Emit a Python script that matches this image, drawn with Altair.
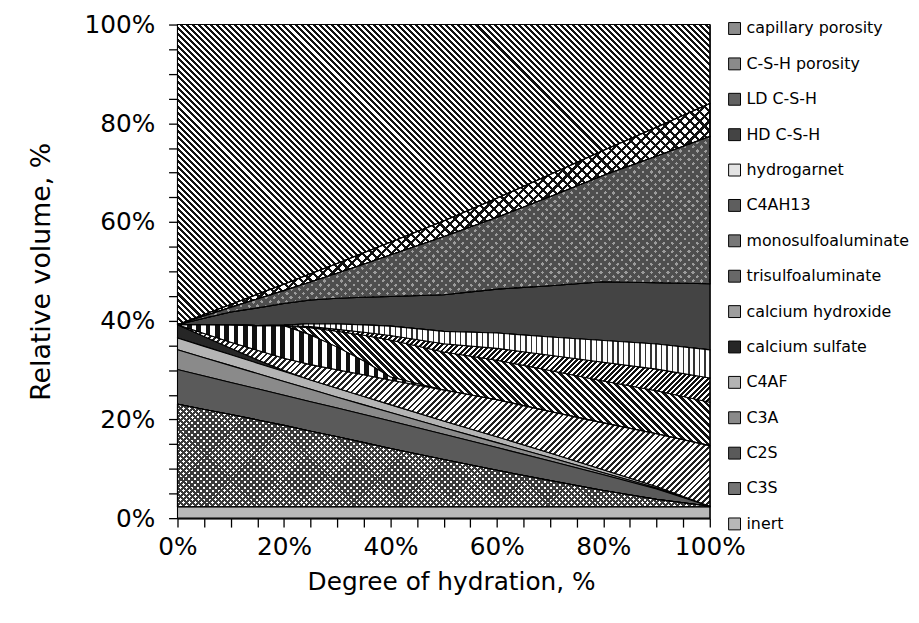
import math
import altair as alt
import pandas as pd

# Degree of hydration (%)
hydration = [0, 5, 10, 15, 20, 25, 30, 35, 40, 50, 60, 70, 80, 90, 100]

# Relative volume of each phase (%) at each degree of hydration
inert = [2.3, 2.3, 2.3, 2.3, 2.3, 2.3, 2.3, 2.3, 2.3, 2.3, 2.3, 2.3, 2.3, 2.3, 2.3]
c3s = [20.8, 19.7, 18.7, 17.6, 16.5, 15.3, 14.2, 13.0, 11.8, 9.6, 7.4, 5.3, 3.3, 1.5, 0.1]
c2s = [7.0, 6.8, 6.5, 6.3, 6.1, 6.0, 5.8, 5.7, 5.6, 5.1, 4.6, 4.0, 3.2, 2.1, 0.0]
c3a = [4.0, 3.7, 3.4, 3.1, 2.8, 2.5, 2.2, 1.95, 1.7, 1.3, 1.0, 0.7, 0.4, 0.2, 0.0]
c4af = [2.4, 2.3, 2.2, 2.1, 2.0, 1.9, 1.8, 1.7, 1.6, 1.4, 1.2, 0.9, 0.6, 0.3, 0.0]
calcium_sulfate = [2.7, 2.0, 1.3, 0.7, 0.2, 0, 0, 0, 0, 0, 0, 0, 0, 0, 0]
calcium_hydroxide = [0, 0.6, 1.25, 1.9, 2.5, 3.1, 3.75, 4.4, 5.0, 6.25, 7.5, 8.4, 9.5, 10.7, 12.3]
trisulfoaluminate = [0, 1.8, 3.5, 5.0, 6.6, 6.0, 4.6, 2.8, 0.6, 0, 0, 0, 0, 0, 0]
monosulfoaluminate = [0, 0, 0, 0, 0, 1.5, 3.2, 5.2, 7.5, 7.7, 8.0, 8.3, 8.5, 8.7, 8.8]
c4ah13 = [0, 0, 0, 0, 0, 0.2, 0.4, 0.6, 0.9, 1.7, 2.4, 3.1, 3.8, 4.4, 4.9]
hydrogarnet = [0, 0, 0, 0, 0.1, 0.6, 1.1, 1.5, 1.9, 2.5, 3.1, 3.7, 4.4, 5.1, 5.7]
hd_csh = [0, 1.3, 2.6, 3.6, 4.4, 4.8, 5.2, 5.6, 6.0, 7.4, 8.9, 10.4, 11.9, 12.4, 13.4]
ld_csh = [0, 0.45, 0.95, 1.8, 2.6, 3.65, 5.05, 6.7, 8.4, 11.75, 14.5, 18.0, 21.5, 25.6, 29.8]
csh_porosity = [0, 0.3, 0.6, 0.95, 1.3, 1.65, 2.0, 2.3, 2.6, 3.2, 3.9, 4.5, 5.1, 5.9, 6.7]
capillary_porosity = [60.8, 58.75, 56.7, 54.65, 52.6, 50.5, 48.4, 46.25, 44.1, 39.8, 35.2, 30.4, 25.5, 20.8, 16.0]

# Legend order (top to bottom) = reverse of stacking order; grey = average tone of the hatch
phases = [
    ("capillary porosity", capillary_porosity, "#8c8c8c"),
    ("C-S-H porosity", csh_porosity, "#8a8a8a"),
    ("LD C-S-H", ld_csh, "#626262"),
    ("HD C-S-H", hd_csh, "#444444"),
    ("hydrogarnet", hydrogarnet, "#e4e4e4"),
    ("C4AH13", c4ah13, "#5e5e5e"),
    ("monosulfoaluminate", monosulfoaluminate, "#777777"),
    ("trisulfoaluminate", trisulfoaluminate, "#686868"),
    ("calcium hydroxide", calcium_hydroxide, "#9e9e9e"),
    ("calcium sulfate", calcium_sulfate, "#262626"),
    ("C4AF", c4af, "#b4b4b4"),
    ("C3A", c3a, "#8a8a8a"),
    ("C2S", c2s, "#5a5a5a"),
    ("C3S", c3s, "#747474"),
    ("inert", inert, "#b8b8b8"),
]

CLEAR = "rgba(0,0,0,0)"
# hatch layers: (phase, direction, perpendicular period px, ink fraction, ink colour, paper colour)
hatches = [
    ("capillary porosity", "\\", 4.3, 0.5, "#111111", "#ffffff"),
    ("C-S-H porosity", "/", 7.0, 0.32, "#111111", "#ffffff"),
    ("C-S-H porosity", "\\", 7.0, 0.32, "#111111", CLEAR),
    ("LD C-S-H", "/", 6.0, 0.58, "#4e4e4e", "#9c9c9c"),
    ("LD C-S-H", "\\", 6.0, 0.58, "#4e4e4e", CLEAR),
    ("monosulfoaluminate", "\\", 4.6, 0.55, "#111111", "#ffffff"),
    ("C4AH13", "/", 3.8, 0.55, "#111111", "#ffffff"),
    ("calcium hydroxide", "/", 4.4, 0.45, "#222222", "#ffffff"),
    ("trisulfoaluminate", "|", 9.5, 0.5, "#111111", "#ffffff"),
    ("hydrogarnet", "|", 5.5, 0.28, "#333333", "#ffffff"),
    ("C3S", "/", 4.2, 0.5, "#3a3a3a", "#ffffff"),
    ("C3S", "\\", 4.2, 0.5, "#3a3a3a", CLEAR),
]

names = [p[0] for p in phases]
colors = [p[2] for p in phases]
n = len(phases)

PLOT_W, PLOT_H = 537, 498
EDGE = 1.1

rows = []
for k, (name, values, _) in enumerate(phases):
    for i, h in enumerate(hydration):
        rows.append({"hydration": h, "phase": name, "volume": values[i], "order": n - k})
df = pd.DataFrame(rows)

# pixel bounding box height of each stacked band (for the hatch gradients)
bottoms = [0.0] * len(hydration)
band_h = {}
for name, values, _ in reversed(phases):
    tops = [b + v for b, v in zip(bottoms, values)]
    band_h[name] = max(1.0, (max(tops) - min(bottoms)) * PLOT_H / 100.0)
    bottoms = tops


def stripe_fill(direction, W, H, period, frac, ink, paper):
    if direction == "|":
        x1, y1, x2, y2 = 0, 0, 1, 0
        length = W
    else:
        r = H / W
        a = (1 + r) / (1 + r * r)
        if direction == "\\":
            x1, y1, x2, y2 = 0, 1, a, 1 - a * r
        else:
            x1, y1, x2, y2 = 0, 0, a, a * r
        length = (W + H) / math.sqrt(2)
    count = max(1, int(round(length / period)))
    stops = []
    for i in range(count):
        o0 = round(i / count, 5)
        o1 = round((i + frac) / count, 5)
        o2 = round((i + 1) / count, 5)
        stops += [
            {"offset": o0, "color": ink},
            {"offset": o1, "color": ink},
            {"offset": o1, "color": paper},
            {"offset": o2, "color": paper},
        ]
    return {"gradient": "linear", "x1": x1, "y1": y1, "x2": x2, "y2": y2, "stops": stops}


FONT = "DejaVu Sans"
ticks = list(range(0, 101, 5))
label_expr = "datum.value % 20 == 0 ? datum.value + '%' : ''"

x_enc = alt.X(
    "hydration:Q",
    scale=alt.Scale(domain=[0, 100], nice=False, zero=False),
    axis=alt.Axis(
        values=ticks,
        labelExpr=label_expr,
        title="Degree of hydration, %",
        grid=False,
        tickSize=9,
        tickWidth=1.3,
        tickColor="black",
        domainColor="black",
        domainWidth=1.5,
        labelFont=FONT,
        labelFontSize=25,
        labelColor="black",
        labelPadding=8,
        labelFlush=False,
        labelOverlap=False,
        titleFont=FONT,
        titleFontSize=25,
        titleFontWeight="normal",
        titleColor="black",
        titlePadding=10,
        titleX=276,
        titleAlign="center",
    ),
)
y_enc = alt.Y(
    "y0:Q",
    scale=alt.Scale(domain=[0, 100], nice=False),
    axis=alt.Axis(
        values=ticks,
        labelExpr=label_expr,
        title="Relative volume, %",
        grid=False,
        tickSize=9,
        tickWidth=1.3,
        tickColor="black",
        domainColor="black",
        domainWidth=1.5,
        labelFont=FONT,
        labelFontSize=25,
        labelColor="black",
        labelPadding=14,
        labelFlush=False,
        labelOverlap=False,
        titleFont=FONT,
        titleFontSize=27,
        titleFontWeight="normal",
        titleColor="black",
        titlePadding=29,
    ),
)

base = alt.Chart(df).transform_stack(
    stack="volume",
    groupby=["hydration"],
    as_=["y0", "y1"],
    sort=[alt.SortField("order", order="ascending")],
)

areas = base.mark_area(stroke="black", strokeWidth=EDGE, interpolate="linear").encode(
    x=x_enc,
    y=y_enc,
    y2="y1:Q",
    color=alt.Color(
        "phase:N",
        scale=alt.Scale(domain=names, range=colors),
        legend=alt.Legend(
            orient="none",
            legendX=554,
            legendY=-4,
            title=None,
            symbolType="square",
            symbolSize=144,
            symbolStrokeColor="black",
            symbolStrokeWidth=1,
            symbolOpacity=1,
            labelFont=FONT,
            labelFontSize=16,
            labelColor="black",
            labelOffset=4,
            labelLimit=300,
            rowPadding=19.7,
            padding=0,
        ),
    ),
)

layers = [areas]
for name, direction, period, frac, ink, paper in hatches:
    fill = stripe_fill(direction, PLOT_W, band_h[name], period, frac, ink, paper)
    layers.append(
        base.transform_filter(alt.datum.phase == name)
        .mark_area(fill=fill, stroke="black", strokeWidth=EDGE, interpolate="linear")
        .encode(x=x_enc, y=y_enc, y2="y1:Q")
    )

chart = (
    alt.layer(*layers)
    .properties(
        width=PLOT_W,
        height=PLOT_H,
        autosize=alt.AutoSizeParams(type="none"),
        padding={"left": 171, "top": 14, "right": 203, "bottom": 95},
    )
    .configure_view(stroke="black", strokeWidth=1)
)

chart.save("out.html", embed_options={"renderer": "svg", "actions": False})
